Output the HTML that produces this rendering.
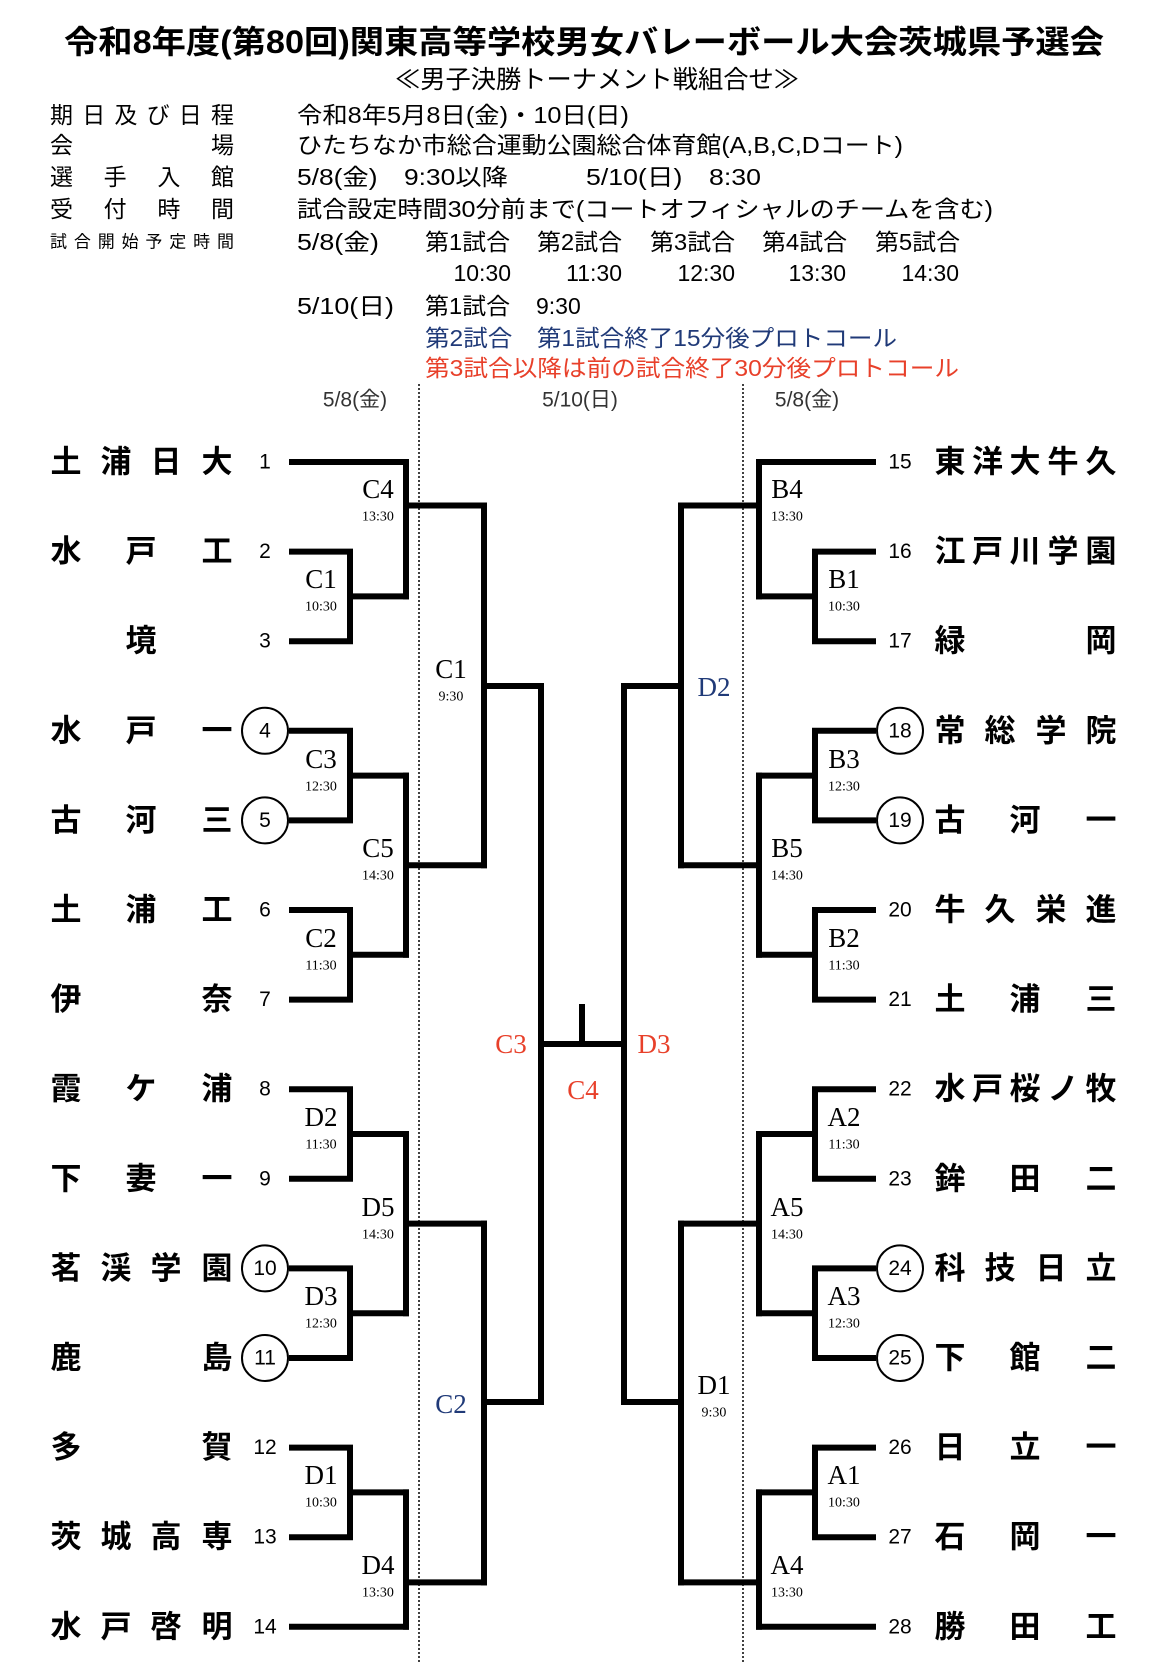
<!DOCTYPE html>
<html><head><meta charset="utf-8"><style>html,body{margin:0;padding:0;background:#fff}svg{display:block}</style></head><body>
<svg xmlns="http://www.w3.org/2000/svg" width="1166" height="1664" viewBox="0 0 1166 1664">
<style>
.j{font-family:"Liberation Sans","Noto Sans CJK JP",sans-serif}
.h{font-size:23px}
.tm{font-family:"Liberation Sans","Noto Sans CJK JP",sans-serif;font-size:31px;font-weight:bold}
.n{font-family:"Liberation Sans",sans-serif;font-size:21px}
.lb{font-family:"Liberation Serif",serif;font-size:27px}
.tt{font-family:"Liberation Serif",serif;font-size:14px}
</style>
<g class="j" fill="#000" dominant-baseline="central">
<text x="584" y="42" text-anchor="middle" font-size="32" font-weight="bold" textLength="1040" lengthAdjust="spacingAndGlyphs">令和8年度(第80回)関東高等学校男女バレーボール大会茨城県予選会</text>
<text x="597" y="80" text-anchor="middle" font-size="25" textLength="404" lengthAdjust="spacingAndGlyphs">≪男子決勝トーナメント戦組合せ≫</text>
<g class="h">
<text x="50" y="115" textLength="184" lengthAdjust="spacing">期日及び日程</text>
<text x="50" y="145" textLength="184" lengthAdjust="spacing">会場</text>
<text x="50" y="177" textLength="184" lengthAdjust="spacing">選手入館</text>
<text x="50" y="209" textLength="184" lengthAdjust="spacing">受付時間</text>
<text x="50" y="242" font-size="17" textLength="184" lengthAdjust="spacing">試合開始予定時間</text>
<text x="297" y="115" textLength="332" lengthAdjust="spacingAndGlyphs">令和8年5月8日(金)・10日(日)</text>
<text x="297" y="145" textLength="606" lengthAdjust="spacingAndGlyphs">ひたちなか市総合運動公園総合体育館(A,B,C,Dコート)</text>
<text x="297" y="177" textLength="211" lengthAdjust="spacingAndGlyphs">5/8(金)　9:30以降</text>
<text x="586" y="177" textLength="175" lengthAdjust="spacingAndGlyphs">5/10(日)　8:30</text>
<text x="297" y="209" textLength="696" lengthAdjust="spacingAndGlyphs">試合設定時間30分前まで(コートオフィシャルのチームを含む)</text>
<text x="297" y="242" textLength="82" lengthAdjust="spacingAndGlyphs">5/8(金)</text>
<text x="425" y="242" textLength="85" lengthAdjust="spacingAndGlyphs">第1試合</text>
<text x="537" y="242" textLength="85" lengthAdjust="spacingAndGlyphs">第2試合</text>
<text x="650" y="242" textLength="85" lengthAdjust="spacingAndGlyphs">第3試合</text>
<text x="762" y="242" textLength="85" lengthAdjust="spacingAndGlyphs">第4試合</text>
<text x="875" y="242" textLength="85" lengthAdjust="spacingAndGlyphs">第5試合</text>
<text x="511" y="273" text-anchor="end">10:30</text>
<text x="622" y="273" text-anchor="end">11:30</text>
<text x="735" y="273" text-anchor="end">12:30</text>
<text x="846" y="273" text-anchor="end">13:30</text>
<text x="959" y="273" text-anchor="end">14:30</text>
<text x="297" y="306" textLength="97" lengthAdjust="spacingAndGlyphs">5/10(日)</text>
<text x="425" y="306" textLength="85" lengthAdjust="spacingAndGlyphs">第1試合</text>
<text x="536" y="306">9:30</text>
<text x="425" y="338" fill="#203a78" textLength="472" lengthAdjust="spacingAndGlyphs">第2試合　第1試合終了15分後プロトコール</text>
<text x="425" y="368" fill="#e8402a" textLength="534" lengthAdjust="spacingAndGlyphs">第3試合以降は前の試合終了30分後プロトコール</text>
</g>
<g font-size="21" fill="#333" text-anchor="middle">
<text x="355" y="400">5/8(金)</text>
<text x="580" y="400">5/10(日)</text>
<text x="807" y="400">5/8(金)</text>
</g>
</g>
<g stroke="#000" stroke-width="1.5" stroke-dasharray="2,2">
<line x1="419" y1="384" x2="419" y2="1664"/><line x1="743" y1="384" x2="743" y2="1664"/>
</g>
<g id="L" stroke="#000" stroke-width="6" stroke-linecap="square" fill="none">
<path d="M292 462H406M292 1626.8H406"/>
<path d="M292 551.6H350V641.2H292M292 730.8H350V820.4H292M292 910H350V999.6H292M292 1089.2H350V1178.8H292M292 1268.4H350V1358H292M292 1447.6H350V1537.2H292"/>
<path d="M350 596.4H406M350 775.6H406M350 954.8H406M350 1134H406M350 1313.2H406M350 1492.4H406"/>
<path d="M406 462V596.4M406 775.6V954.8M406 1134V1313.2M406 1492.4V1626.8"/>
<path d="M406 505.5H484M406 865.2H484M406 1223.6H484M406 1582.4H484"/>
<path d="M484 505.5V865.2M484 1223.6V1582.4M484 686H541M484 1402H541M541 686V1402"/>
</g>
<use href="#L" transform="translate(1165,0) scale(-1,1)"/>
<path d="M541 1044H624M582 1004V1044" stroke="#000" stroke-width="6" fill="none"/>
<g fill="#fff" stroke="#000" stroke-width="2">
<circle cx="265" cy="730.8" r="23"/><circle cx="265" cy="820.4" r="23"/><circle cx="265" cy="1268.4" r="23"/><circle cx="265" cy="1358" r="23"/>
<circle cx="900" cy="730.8" r="23"/><circle cx="900" cy="820.4" r="23"/><circle cx="900" cy="1268.4" r="23"/><circle cx="900" cy="1358" r="23"/>
</g>
<g class="n" text-anchor="middle" dominant-baseline="central">
<text x="265" y="462">1</text><text x="265" y="551.6">2</text><text x="265" y="641.2">3</text><text x="265" y="730.8">4</text><text x="265" y="820.4">5</text><text x="265" y="910">6</text><text x="265" y="999.6">7</text><text x="265" y="1089.2">8</text><text x="265" y="1178.8">9</text><text x="265" y="1268.4">10</text><text x="265" y="1358">11</text><text x="265" y="1447.6">12</text><text x="265" y="1537.2">13</text><text x="265" y="1626.8">14</text>
<text x="900" y="462">15</text><text x="900" y="551.6">16</text><text x="900" y="641.2">17</text><text x="900" y="730.8">18</text><text x="900" y="820.4">19</text><text x="900" y="910">20</text><text x="900" y="999.6">21</text><text x="900" y="1089.2">22</text><text x="900" y="1178.8">23</text><text x="900" y="1268.4">24</text><text x="900" y="1358">25</text><text x="900" y="1447.6">26</text><text x="900" y="1537.2">27</text><text x="900" y="1626.8">28</text>
</g>
<g class="tm" text-anchor="middle" dominant-baseline="central">
<text x="66 116 166 217" y="462">土浦日大</text>
<text x="66 141 217" y="551.6">水戸工</text>
<text x="141" y="641.2">境</text>
<text x="66 141 217" y="730.8">水戸一</text>
<text x="66 141 217" y="820.4">古河三</text>
<text x="66 141 217" y="910">土浦工</text>
<text x="66 217" y="999.6">伊奈</text>
<text x="66 141 217" y="1089.2">霞ケ浦</text>
<text x="66 141 217" y="1178.8">下妻一</text>
<text x="66 116 166 217" y="1268.4">茗渓学園</text>
<text x="66 217" y="1358">鹿島</text>
<text x="66 217" y="1447.6">多賀</text>
<text x="66 116 166 217" y="1537.2">茨城高専</text>
<text x="66 116 166 217" y="1626.8">水戸啓明</text>
<text x="950 987.5 1025 1063 1101" y="462">東洋大牛久</text>
<text x="950 987.5 1025 1063 1101" y="551.6">江戸川学園</text>
<text x="950 1101" y="641.2">緑岡</text>
<text x="950 1000 1051 1101" y="730.8">常総学院</text>
<text x="950 1025 1101" y="820.4">古河一</text>
<text x="950 1000 1051 1101" y="910">牛久栄進</text>
<text x="950 1025 1101" y="999.6">土浦三</text>
<text x="950 987.5 1025 1063 1101" y="1089.2">水戸桜ノ牧</text>
<text x="950 1025 1101" y="1178.8">鉾田二</text>
<text x="950 1000 1051 1101" y="1268.4">科技日立</text>
<text x="950 1025 1101" y="1358">下館二</text>
<text x="950 1025 1101" y="1447.6">日立一</text>
<text x="950 1025 1101" y="1537.2">石岡一</text>
<text x="950 1025 1101" y="1626.8">勝田工</text>
</g>
<g text-anchor="middle" dominant-baseline="central">
<g class="lb">
<text x="321" y="579">C1</text><text x="321" y="759">C3</text><text x="321" y="938">C2</text><text x="321" y="1117">D2</text><text x="321" y="1296">D3</text><text x="321" y="1475">D1</text>
<text x="378" y="489">C4</text><text x="378" y="848">C5</text><text x="378" y="1207">D5</text><text x="378" y="1565">D4</text>
<text x="451" y="669">C1</text><text x="451" y="1404" fill="#203a78">C2</text>
<text x="844" y="579">B1</text><text x="844" y="759">B3</text><text x="844" y="938">B2</text><text x="844" y="1117">A2</text><text x="844" y="1296">A3</text><text x="844" y="1475">A1</text>
<text x="787" y="489">B4</text><text x="787" y="848">B5</text><text x="787" y="1207">A5</text><text x="787" y="1565">A4</text>
<text x="714" y="687" fill="#203a78">D2</text><text x="714" y="1385">D1</text>
<text x="511" y="1044" fill="#e8402a">C3</text><text x="654" y="1044" fill="#e8402a">D3</text><text x="583" y="1090" fill="#e8402a">C4</text>
</g>
<g class="tt">
<text x="321" y="607">10:30</text><text x="321" y="787">12:30</text><text x="321" y="966">11:30</text><text x="321" y="1145">11:30</text><text x="321" y="1324">12:30</text><text x="321" y="1503">10:30</text>
<text x="378" y="517">13:30</text><text x="378" y="876">14:30</text><text x="378" y="1235">14:30</text><text x="378" y="1593">13:30</text>
<text x="451" y="697">9:30</text>
<text x="844" y="607">10:30</text><text x="844" y="787">12:30</text><text x="844" y="966">11:30</text><text x="844" y="1145">11:30</text><text x="844" y="1324">12:30</text><text x="844" y="1503">10:30</text>
<text x="787" y="517">13:30</text><text x="787" y="876">14:30</text><text x="787" y="1235">14:30</text><text x="787" y="1593">13:30</text>
<text x="714" y="1413">9:30</text>
</g>
</g>
</svg>
</body></html>
